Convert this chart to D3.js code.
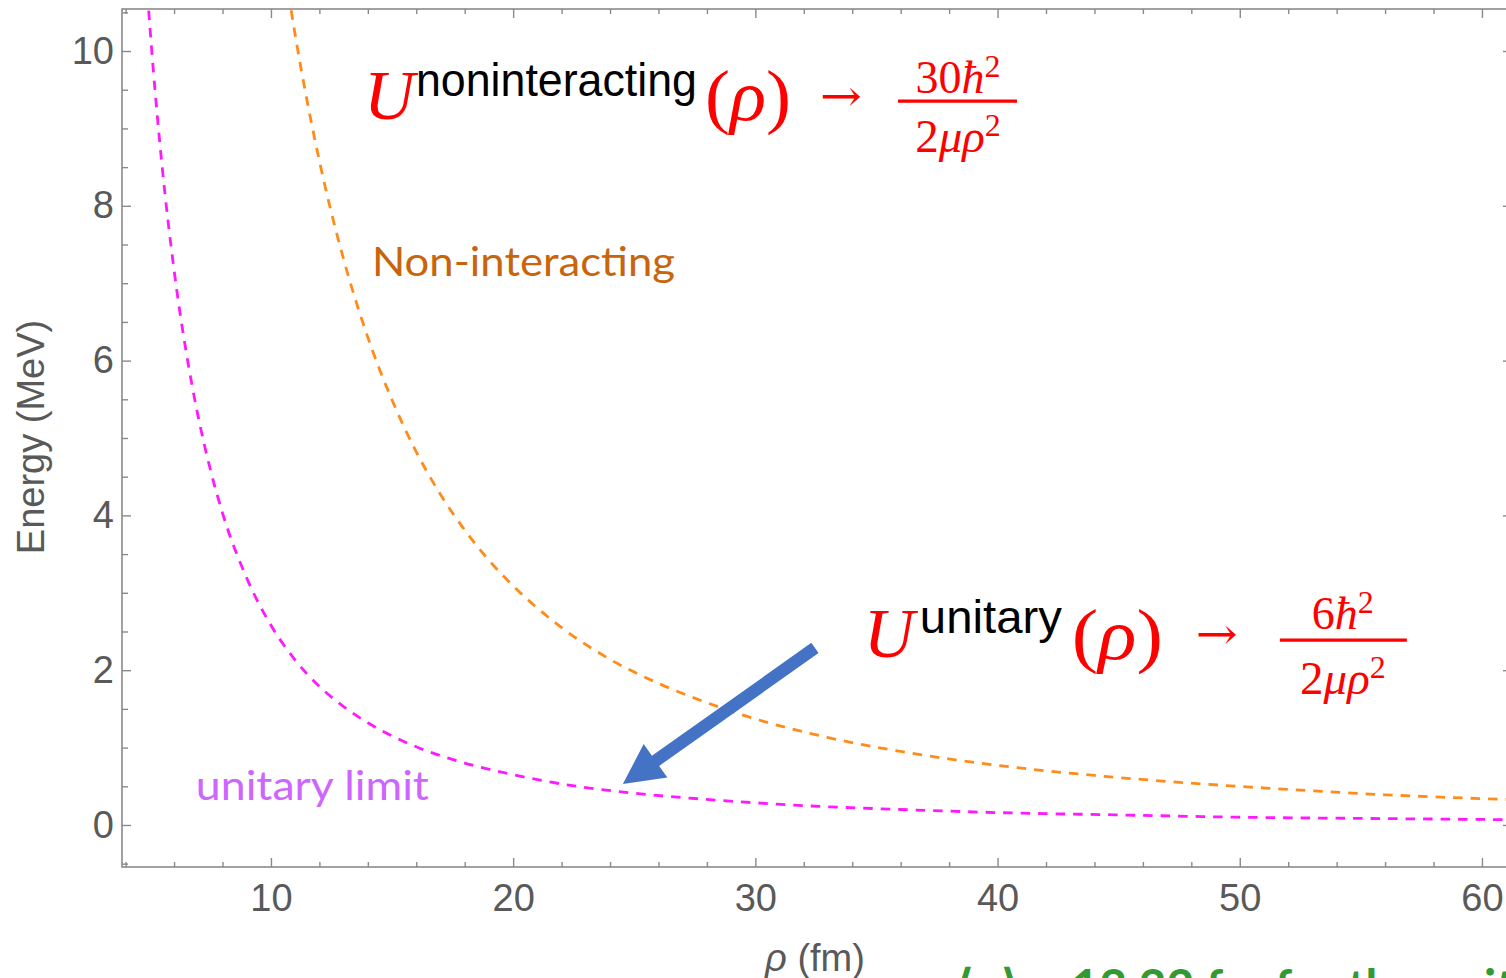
<!DOCTYPE html>
<html>
<head>
<meta charset="utf-8">
<script src="https://cdn.jsdelivr.net/npm/d3@7"></script>
<style>
  html, body { margin: 0; padding: 0; background: #fff; overflow: hidden; }
  svg { display: block; }
</style>
</head>
<body>
<svg id="chart" width="1506" height="978"></svg>
<script>
// Hyperradial potential curves, energy (MeV) versus hyperradius rho (fm)
const rhoUnitary    = [4.9, 5, 5.5, 6, 6.5, 7, 7.5, 8, 9, 10, 11, 12, 13, 14, 15, 16, 18, 20, 22, 25, 28, 32, 36, 40, 45, 50, 55, 61];
const energyUnitary = [10.75, 10.32, 8.53, 7.17, 6.11, 5.27, 4.59, 4.03, 3.19, 2.58, 2.13, 1.79, 1.53, 1.32, 1.15, 1.01, 0.80, 0.65, 0.53, 0.41, 0.33, 0.25, 0.20, 0.16, 0.13, 0.10, 0.085, 0.069];

const rhoFree    = [10.5, 11, 12, 13, 14, 15, 16, 17, 18, 19, 20, 22, 24, 26, 28, 30, 33, 36, 40, 44, 48, 52, 56, 61];
const energyFree = [11.20, 10.21, 8.58, 7.31, 6.30, 5.49, 4.82, 4.27, 3.81, 3.42, 3.09, 2.55, 2.14, 1.83, 1.58, 1.37, 1.13, 0.95, 0.77, 0.64, 0.54, 0.46, 0.39, 0.33];

const xTickValues = [10, 20, 30, 40, 50, 60];
const yTickValues = [0, 2, 4, 6, 8, 10];
const xMinorTicks = d3.range(4, 62, 2).filter(v => v % 10 !== 0);
const yMinorTicks = d3.range(-0.5, 10.6, 0.5).filter(v => v % 2 !== 0);

const xLabel = "(fm)";
const yLabel = "Energy (MeV)";

// ---- layout ----
const frame = { left: 122, top: 9, right: 1512, bottom: 867 };
const sans  = "'Liberation Sans', Arial, sans-serif";
const serif = "'Liberation Serif', 'Times New Roman', serif";
const calibriLike = "Lato, 'Open Sans', sans-serif";
const axisGray = "#8a8a8a";
const labelGray = "#595959";

const svg = d3.select("#chart");
svg.append("rect").attr("width", 1506).attr("height", 978).attr("fill", "#fff");

const x = d3.scaleLinear().domain([3.85, 61.24]).range([frame.left, frame.right]);
const y = d3.scaleLinear().domain([-0.543, 10.543]).range([frame.bottom, frame.top]);

// ---- clip region for the curves ----
svg.append("defs").append("clipPath").attr("id", "plotClip")
  .append("rect")
  .attr("x", frame.left).attr("y", frame.top)
  .attr("width", frame.right - frame.left).attr("height", frame.bottom - frame.top);

// ---- curves ----
const line = d3.line()
  .x(d => x(d[0]))
  .y(d => y(d[1]))
  .curve(d3.curveMonotoneX);

const curves = svg.append("g").attr("clip-path", "url(#plotClip)");

curves.append("path")
  .datum(d3.zip(rhoUnitary, energyUnitary))
  .attr("d", line)
  .attr("fill", "none")
  .attr("stroke", "#ff19ff")
  .attr("stroke-width", 2.8)
  .attr("stroke-dasharray", "9.5 8");

curves.append("path")
  .datum(d3.zip(rhoFree, energyFree))
  .attr("d", line)
  .attr("fill", "none")
  .attr("stroke", "#ff8c1a")
  .attr("stroke-width", 2.8)
  .attr("stroke-dasharray", "9.5 8");

// ---- frame with inward ticks ----
function styleAxis(g) {
  g.select(".domain").remove();
  g.selectAll(".tick line").attr("stroke", axisGray).attr("stroke-width", 1.4);
  g.selectAll(".tick text")
    .attr("fill", labelGray)
    .attr("font-family", sans)
    .attr("font-size", 38);
}

// bottom
svg.append("g").attr("transform", `translate(0,${frame.bottom})`)
  .call(d3.axisBottom(x).tickValues(xTickValues).tickSize(-9).tickPadding(17).tickFormat(d3.format("d")))
  .call(styleAxis);
svg.append("g").attr("transform", `translate(0,${frame.bottom})`)
  .call(d3.axisBottom(x).tickValues(xMinorTicks).tickSize(-5).tickFormat(""))
  .call(styleAxis);
// top
svg.append("g").attr("transform", `translate(0,${frame.top})`)
  .call(d3.axisTop(x).tickValues(xTickValues).tickSize(-9).tickFormat(""))
  .call(styleAxis);
svg.append("g").attr("transform", `translate(0,${frame.top})`)
  .call(d3.axisTop(x).tickValues(xMinorTicks).tickSize(-5).tickFormat(""))
  .call(styleAxis);
// left
svg.append("g").attr("transform", `translate(${frame.left},0)`)
  .call(d3.axisLeft(y).tickValues(yTickValues).tickSize(-9).tickPadding(8).tickFormat(d3.format("d")))
  .call(styleAxis);
svg.append("g").attr("transform", `translate(${frame.left},0)`)
  .call(d3.axisLeft(y).tickValues(yMinorTicks).tickSize(-6).tickFormat(""))
  .call(styleAxis);
// right
svg.append("g").attr("transform", `translate(${frame.right},0)`)
  .call(d3.axisRight(y).tickValues(yTickValues).tickSize(-9).tickFormat(""))
  .call(styleAxis);
svg.append("g").attr("transform", `translate(${frame.right},0)`)
  .call(d3.axisRight(y).tickValues(yMinorTicks).tickSize(-6).tickFormat(""))
  .call(styleAxis);

svg.append("rect")
  .attr("x", frame.left).attr("y", frame.top)
  .attr("width", frame.right - frame.left).attr("height", frame.bottom - frame.top)
  .attr("fill", "none").attr("stroke", axisGray).attr("stroke-width", 1.6);

// ---- axis titles ----
svg.append("text")
  .attr("transform", "translate(44,437) rotate(-90)")
  .attr("text-anchor", "middle")
  .attr("font-family", sans).attr("font-size", 38).attr("fill", labelGray)
  .text(yLabel);

const xt = svg.append("text")
  .attr("x", 815).attr("y", 971)
  .attr("text-anchor", "middle")
  .attr("font-family", sans).attr("font-size", 38).attr("fill", labelGray);
xt.append("tspan").attr("font-style", "italic").text("ρ");
xt.append("tspan").text(" " + xLabel);

// ---- curve labels ----
svg.append("text")
  .attr("x", x(14.17)).attr("y", y(7.09))
  .attr("font-family", calibriLike).attr("font-size", 41).attr("fill", "#c8650c")
  .attr("textLength", 303).attr("lengthAdjust", "spacingAndGlyphs")
  .text("Non-interacting");

svg.append("text")
  .attr("x", x(6.90)).attr("y", y(0.32))
  .attr("font-family", calibriLike).attr("font-size", 41).attr("fill", "#cc66ff")
  .attr("textLength", 233).attr("lengthAdjust", "spacingAndGlyphs")
  .text("unitary limit");

// ---- asymptotic formulas ----
function formula(anchorRho, anchorE, o) {
  const g = svg.append("g")
    .attr("transform", `translate(${x(anchorRho)},${y(anchorE)})`)
    .attr("fill", "#ff0000");

  g.append("text").attr("x", 0).attr("y", 0)
    .attr("font-family", serif).attr("font-style", "italic").attr("font-size", 70)
    .text("U");

  g.append("text").attr("x", o.supX).attr("y", o.supY)
    .attr("font-family", sans).attr("font-size", 46).attr("fill", "#000")
    .attr("textLength", o.supLen).attr("lengthAdjust", "spacingAndGlyphs")
    .text(o.sup);

  const arg = g.append("text").attr("x", o.argX).attr("y", o.argY)
    .attr("font-family", serif).attr("font-size", 72)
    .attr("textLength", o.argLen).attr("lengthAdjust", "spacingAndGlyphs");
  arg.append("tspan").text("(");
  arg.append("tspan").attr("font-style", "italic").text("ρ");
  arg.append("tspan").text(")");

  g.append("text").attr("x", o.arrowX).attr("y", o.arrowY)
    .attr("text-anchor", "middle")
    .attr("font-family", "'DejaVu Serif', serif").attr("font-size", 44)
    .attr("textLength", 42).attr("lengthAdjust", "spacingAndGlyphs")
    .text("→");

  g.append("line")
    .attr("x1", o.barX1).attr("x2", o.barX2)
    .attr("y1", o.barY).attr("y2", o.barY)
    .attr("stroke", "#ff0000").attr("stroke-width", 3.2);

  const num = g.append("text").attr("x", o.fracX).attr("y", o.numY)
    .attr("text-anchor", "middle").attr("font-family", serif).attr("font-size", 46);
  num.append("tspan").text(o.coef);
  num.append("tspan").attr("font-style", "italic").text("ħ");
  num.append("tspan").attr("font-size", 32).attr("dy", -16).text("2");

  const den = g.append("text").attr("x", o.fracX).attr("y", o.denY)
    .attr("text-anchor", "middle").attr("font-family", serif).attr("font-size", 47);
  den.append("tspan").text("2");
  den.append("tspan").attr("font-style", "italic").text("μρ");
  den.append("tspan").attr("font-size", 32).attr("dy", -16).text("2");
}

formula(13.84, 9.12, {
  sup: "noninteracting", supX: 52, supY: -23, supLen: 281,
  argX: 341, argY: 1, argLen: 86,
  arrowX: 477, arrowY: -8,
  barX1: 534, barX2: 653, barY: -18,
  fracX: 594, numY: -26, denY: 33,
  coef: "30"
});

formula(34.48, 2.17, {
  sup: "unitary", supX: 56, supY: -24, supLen: 142,
  argX: 208, argY: 2, argLen: 91,
  arrowX: 353, arrowY: -8,
  barX1: 416, barX2: 543, barY: -17,
  fracX: 479, numY: -28, denY: 37,
  coef: "6"
});

// ---- pointer arrow toward the unitary curve ----
(function drawArrow() {
  const tail = [x(32.46), y(2.287)];
  const tip  = [x(24.53), y(0.53)];
  const shaftW = 12.5, headW = 41, headL = 40;
  const dx = tip[0] - tail[0], dy = tip[1] - tail[1];
  const len = Math.hypot(dx, dy);
  const ux = dx / len, uy = dy / len;
  const nx = -uy, ny = ux;
  const base = [tip[0] - ux * headL, tip[1] - uy * headL];
  const pts = [
    [tail[0] + nx * shaftW / 2, tail[1] + ny * shaftW / 2],
    [base[0] + nx * shaftW / 2, base[1] + ny * shaftW / 2],
    [base[0] + nx * headW / 2,  base[1] + ny * headW / 2],
    tip,
    [base[0] - nx * headW / 2,  base[1] - ny * headW / 2],
    [base[0] - nx * shaftW / 2, base[1] - ny * shaftW / 2],
    [tail[0] - nx * shaftW / 2, tail[1] - ny * shaftW / 2]
  ];
  svg.append("polygon")
    .attr("points", pts.map(p => p.join(",")).join(" "))
    .attr("fill", "#4472c4");
})();

// ---- caption line running off the bottom edge ----
svg.append("text")
  .attr("x", 955).attr("y", 1004)
  .attr("font-family", calibriLike).attr("font-weight", "bold")
  .attr("font-size", 48).attr("fill", "#339933")
  .text("⟨ρ⟩ ~ 13.32 fm for the unitary limit");
</script>
</body>
</html>
